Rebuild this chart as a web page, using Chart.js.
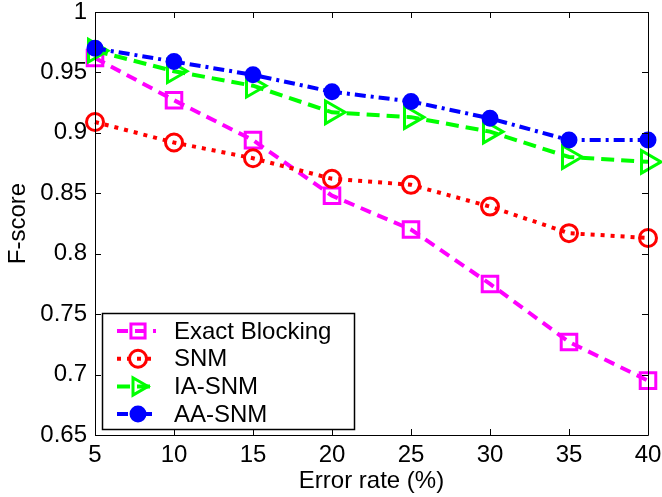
<!DOCTYPE html>
<html>
<head>
<meta charset="utf-8">
<script src="https://cdn.jsdelivr.net/npm/chart.js@4.4.1/dist/chart.umd.min.js"></script>
<style>
  html, body { margin: 0; padding: 0; background: #fff; }
</style>
</head>
<body>
<canvas id="myChart" width="662" height="497"></canvas>
<script>
// data
const errorRates = [5, 10, 15, 20, 25, 30, 35, 40];
const exactBlocking = [0.962, 0.927, 0.894, 0.848, 0.820, 0.775, 0.727, 0.695];
const snm = [0.909, 0.892, 0.879, 0.862, 0.857, 0.839, 0.817, 0.813];
const iaSnm = [0.968, 0.951, 0.939, 0.917, 0.913, 0.901, 0.880, 0.876];
const aaSnm = [0.970, 0.959, 0.948, 0.934, 0.926, 0.912, 0.894, 0.894];
const seriesNames = ['Exact Blocking', 'SNM', 'IA-SNM', 'AA-SNM'];
const xTicks = [5, 10, 15, 20, 25, 30, 35, 40];
const yTicks = [0.65, 0.7, 0.75, 0.8, 0.85, 0.9, 0.95, 1];

const FONT = 'Liberation Sans, Arial, Helvetica, sans-serif';

function pts(vals) {
    return errorRates.map((x, i) => ({ x: x, y: vals[i] }));
}

const styles = [
    { color: '#ff00ff', dash: [11, 7], marker: 'rect', radius: 11, rotation: 0, fill: 'rgba(0,0,0,0)' },
    { color: '#ff0000', dash: [4, 6], marker: 'circle', radius: 8.5, rotation: 0, fill: 'rgba(0,0,0,0)' },
    { color: '#00ff00', dash: [13, 7], marker: 'triangle', radius: 13, rotation: 90, fill: 'rgba(0,0,0,0)' },
    { color: '#0000ff', dash: [11, 5, 3, 5], marker: 'circle', radius: 7, rotation: 0, fill: '#0000ff' }
];
const values = [exactBlocking, snm, iaSnm, aaSnm];

const datasets = values.map((v, i) => ({
    label: seriesNames[i],
    data: pts(v),
    borderColor: styles[i].color,
    borderWidth: 4,
    borderDash: styles[i].dash,
    pointStyle: styles[i].marker,
    pointRadius: styles[i].radius,
    pointRotation: styles[i].rotation,
    pointBorderWidth: 3,
    pointBorderColor: styles[i].color,
    pointBackgroundColor: styles[i].fill,
    tension: 0,
    fill: false,
    clip: false,
    order: 4 - i
}));

// inward ticks, box frame and legend inside the plot
const framePlugin = {
    id: 'frame',
    afterDraw(chart) {
        const ctx = chart.ctx;
        const a = chart.chartArea;
        const xs = chart.scales.x, ys = chart.scales.y;
        ctx.save();
        ctx.strokeStyle = '#000';
        ctx.lineWidth = 1;
        ctx.setLineDash([]);
        ctx.beginPath();
        ctx.rect(a.left + 0.5, a.top + 0.5, a.right - a.left, a.bottom - a.top);
        xTicks.forEach(t => {
            const px = Math.round(xs.getPixelForValue(t)) + 0.5;
            ctx.moveTo(px, a.bottom); ctx.lineTo(px, a.bottom - 6);
            ctx.moveTo(px, a.top); ctx.lineTo(px, a.top + 6);
        });
        yTicks.forEach(t => {
            const py = Math.round(ys.getPixelForValue(t)) + 0.5;
            ctx.moveTo(a.left, py); ctx.lineTo(a.left + 6, py);
            ctx.moveTo(a.right, py); ctx.lineTo(a.right - 6, py);
        });
        ctx.stroke();

        // legend
        const lx = 102, ly = 313, lw = 252, lh = 116;
        ctx.fillStyle = '#fff';
        ctx.fillRect(lx, ly, lw, lh);
        ctx.lineWidth = 1.5;
        ctx.strokeRect(lx + 0.5, ly + 0.5, lw, lh);
        ctx.font = '24px ' + FONT;
        ctx.textBaseline = 'middle';
        seriesNames.forEach((name, i) => {
            const y = 331 + i * 27.7;
            const s = styles[i];
            ctx.strokeStyle = s.color;
            ctx.lineWidth = 4;
            ctx.setLineDash(s.dash);
            ctx.beginPath();
            ctx.moveTo(117, y); ctx.lineTo(156, y);
            ctx.stroke();
            ctx.setLineDash([]);
            ctx.lineWidth = 3;
            ctx.fillStyle = s.fill;
            Chart.helpers.drawPoint(ctx, { pointStyle: s.marker, radius: Math.min(s.radius, 10), rotation: s.rotation, borderWidth: 3 }, 138, y);
            ctx.fillStyle = '#000';
            ctx.fillText(name, 174, y + 1);
        });
        ctx.restore();
    }
};

const ctx = document.getElementById('myChart').getContext('2d');
const myChart = new Chart(ctx, {
    type: 'line',
    data: { datasets: datasets },
    options: {
        responsive: false,
        animation: false,
        layout: { autoPadding: false, padding: { left: 0, top: 12, right: 14, bottom: 0 } },
        scales: {
            x: {
                type: 'linear',
                min: 5,
                max: 40,
                afterFit: s => { s.height = 62; s.paddingLeft = 0; s.paddingRight = 0; },
                afterBuildTicks: s => { s.ticks = xTicks.map(v => ({ value: v })); },
                grid: { display: false, drawTicks: false },
                border: { display: false },
                ticks: { color: '#000', padding: 6, font: { family: FONT, size: 24 } },
                title: { display: true, text: 'Error rate (%)', color: '#000', font: { family: FONT, size: 24 }, padding: { top: 0, bottom: 1 } }
            },
            y: {
                min: 0.65,
                max: 1,
                afterFit: s => { s.width = 95; s.paddingTop = 0; s.paddingBottom = 0; },
                afterBuildTicks: s => { s.ticks = yTicks.map(v => ({ value: v })); },
                grid: { display: false, drawTicks: false },
                border: { display: false },
                ticks: {
                    color: '#000', padding: 8, font: { family: FONT, size: 24 },
                    callback: v => String(Number(v.toFixed(2)))
                },
                title: { display: true, text: 'F-score', color: '#000', font: { family: FONT, size: 24 }, padding: { top: 4, bottom: 0 } }
            }
        },
        plugins: {
            legend: { display: false },
            tooltip: { enabled: false }
        }
    },
    plugins: [framePlugin]
});
</script>
</body>
</html>
